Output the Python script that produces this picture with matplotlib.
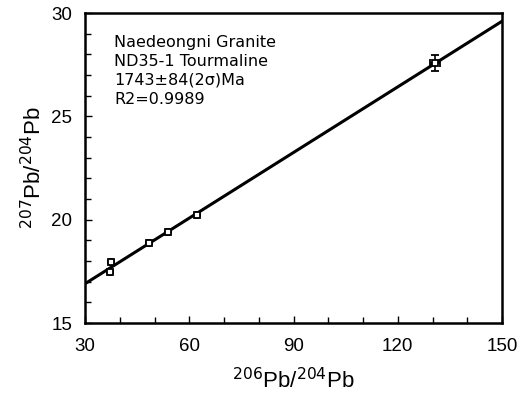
import matplotlib
matplotlib.use("Agg")
import matplotlib.pyplot as plt
import numpy as np
from matplotlib.ticker import MultipleLocator

plt.rcParams['font.family'] = ['Liberation Sans', 'DejaVu Sans']

pb206 = [37.5, 37.2, 48.5, 53.8, 62.3, 130.7]
pb207 = [17.94, 17.45, 18.86, 19.42, 20.23, 27.57]
xerr = [0.3, 0.3, 0.3, 0.3, 0.3, 1.4]
yerr = [0.05, 0.05, 0.05, 0.05, 0.05, 0.4]
fit_x = [30, 150]
fit_y = [16.9, 29.6]
xticks = [30, 60, 90, 120, 150]
yticks = [15, 20, 25, 30]

fig = plt.figure(figsize=(5.24, 3.94), dpi=100)
ax = fig.add_axes([85/524, 1-323/394, 417/524, 310/394])

ax.plot(fit_x, fit_y, color='black', lw=2.2, zorder=2)
ax.errorbar(pb206, pb207, xerr=xerr, yerr=yerr, fmt='s', ms=5, mfc='white',
            mec='black', mew=1.3, ecolor='black', elinewidth=1.2, capsize=3,
            zorder=3)

ax.set_xlim(30, 150)
ax.set_ylim(15, 30)
ax.set_xticks(xticks)
ax.set_yticks(yticks)
ax.xaxis.set_minor_locator(MultipleLocator(10))
ax.yaxis.set_minor_locator(MultipleLocator(1))
ax.tick_params(which='both', direction='in', top=False, right=False,
               labelsize=13.5, width=1, color='black')
ax.tick_params(which='major', length=5)
ax.tick_params(axis='x', which='major', pad=11)
ax.tick_params(axis='y', which='major', pad=9)
ax.tick_params(which='minor', length=4)
for s in ax.spines.values():
    s.set_linewidth(1.8)

ax.set_xlabel(r'$^{206}$Pb/$^{204}$Pb', fontsize=16, labelpad=9)
ax.set_ylabel(r'$^{207}$Pb/$^{204}$Pb', fontsize=16, labelpad=4)

ax.text(114/524, 1-35/394, 'Naedeongni Granite\nND35-1 Tourmaline\n1743±84(2σ)Ma\nR2=0.9989',
        transform=fig.transFigure, fontsize=11.5, va='top', ha='left',
        linespacing=1.32, family=['DejaVu Sans'])

fig.savefig('out.png', dpi=100)
